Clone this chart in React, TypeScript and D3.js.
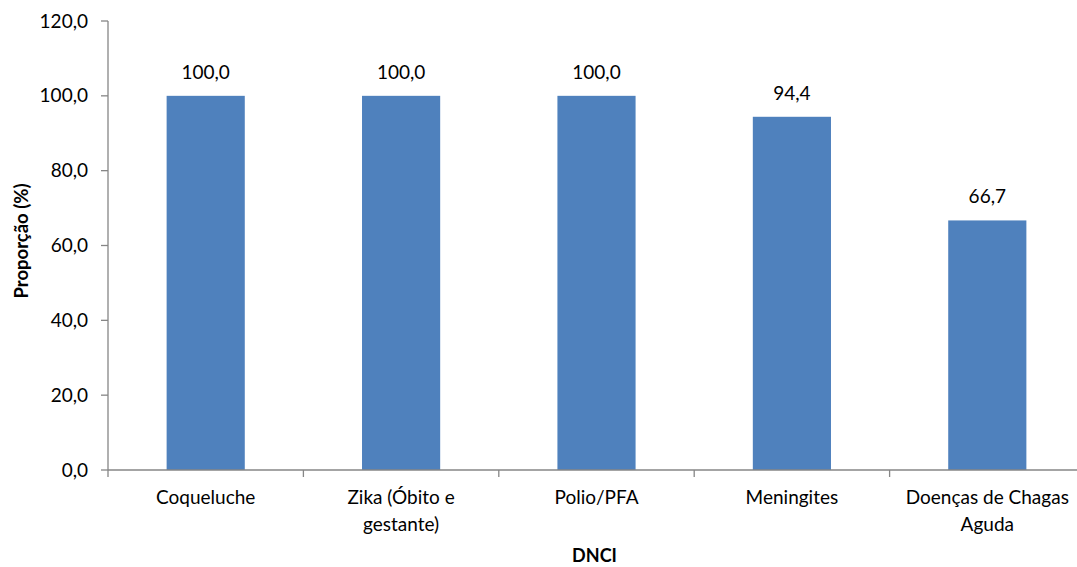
import React from "react";
import * as d3 from "d3";

const categories: string[][] = [
  ["Coqueluche"],
  ["Zika (Óbito e", "gestante)"],
  ["Polio/PFA"],
  ["Meningites"],
  ["Doenças de Chagas", "Aguda"],
];
const values: number[] = [100.0, 100.0, 100.0, 94.4, 66.7];
const yTicks: number[] = [0, 20, 40, 60, 80, 100, 120];

const W = 1077;
const H = 567;
const left = 108;
const right = 1085;
const top = 21;
const bottom = 470;
const font = "Lato, 'Open Sans', sans-serif";
const axisColor = "#868686";
const fs = 19;

const fmt = (v: number) => v.toFixed(1).replace(".", ",");

export default function App() {
  const keys = categories.map((_, i) => String(i));
  const x = d3.scaleBand<string>().domain(keys).range([left, right]).paddingInner(0.6).paddingOuter(0.3);
  const step = x.step();
  const y = d3.scaleLinear().domain([0, 120]).range([bottom, top]);
  const boundaries = d3.range(categories.length + 1).map((i) => left + i * step);
  const cx = (i: number) => (x(String(i)) as number) + x.bandwidth() / 2;

  return (
    <svg width={W} height={H} style={{ position: "absolute", left: 0, top: 0, background: "#fff" }} fontFamily={font}>
      {values.map((v, i) => (
        <rect key={i} x={x(String(i))} y={y(v)} width={x.bandwidth()} height={y(0) - y(v)} fill="#4F81BD" />
      ))}
      {values.map((v, i) => (
        <text key={"l" + i} x={cx(i)} y={y(v) - 17} textAnchor="middle" fontSize={fs} fill="#000">
          {fmt(v)}
        </text>
      ))}
      <line x1={left} x2={left} y1={y(120)} y2={y(0)} stroke={axisColor} strokeWidth={1.3} />
      {yTicks.map((t) => (
        <g key={t}>
          <line x1={left - 7} x2={left} y1={y(t)} y2={y(t)} stroke={axisColor} strokeWidth={1.3} />
          <text x={88} y={y(t)} dy="0.35em" textAnchor="end" fontSize={fs} fill="#000">
            {fmt(t)}
          </text>
        </g>
      ))}
      <line x1={left} x2={right} y1={y(0)} y2={y(0)} stroke={axisColor} strokeWidth={1.3} />
      {boundaries.map((b, i) => (
        <line key={"b" + i} x1={b} x2={b} y1={y(0)} y2={y(0) + 7} stroke={axisColor} strokeWidth={1.3} />
      ))}
      {categories.map((lines, i) => (
        <text key={"c" + i} x={cx(i)} y={504} textAnchor="middle" fontSize={fs} fill="#000">
          {lines.map((ln, j) => (
            <tspan key={j} x={cx(i)} dy={j === 0 ? 0 : 27}>
              {ln}
            </tspan>
          ))}
        </text>
      ))}
      <text x={594.5} y={562} textAnchor="middle" fontSize={18} fontWeight="bold" fill="#000">
        DNCI
      </text>
      <text transform={`translate(28, 241) rotate(-90)`} textAnchor="middle" fontSize={18.5} fontWeight="bold" fill="#000">
        Proporção (%)
      </text>
    </svg>
  );
}
